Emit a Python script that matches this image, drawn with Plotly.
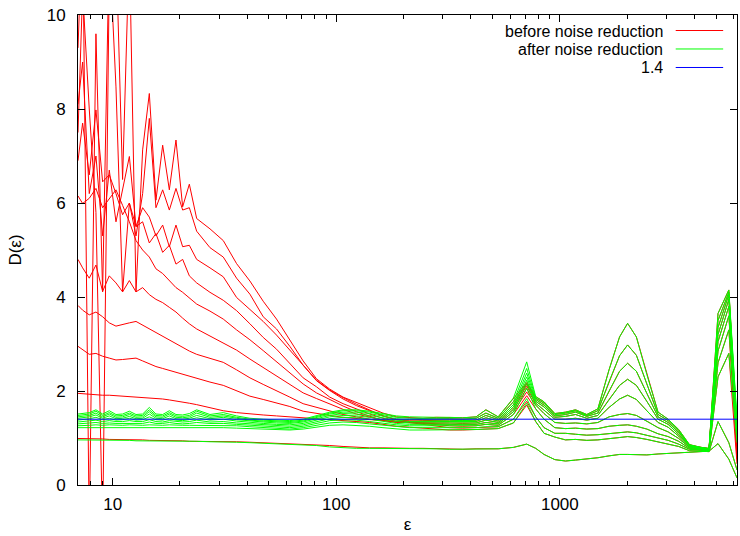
import math
import plotly.graph_objects as go

# ---------------- data ----------------
X_MIN = 7.0
X_MAX = 6200.0
THRESH = 1.4

eps_head = [7.0, 7.34, 7.86, 8.42, 9.02, 9.66, 10.35, 11.08, 11.88, 12.72, 13.62, 14.59, 15.62, 16.74,
            17.93, 19.2, 20.57, 22.03, 23.76, 27.25, 31.25, 35.84, 41.11, 47.14, 54.07, 62.01, 71.12,
            81.56, 93.52, 107.3, 123.0, 141.1, 161.8, 185.6, 212.8, 244.1, 279.9]
eps_tail = [321, 368, 422, 467, 530, 620, 711, 780, 850, 950, 1060, 1175, 1320, 1480, 1660, 1850,
            2010, 2200, 2450, 2750, 3050, 3400, 3800, 4250, 4650, 5100, 5700, 6200]

# before noise reduction, small-epsilon part, embedding dimensions 1..10
red_head_m1 = [0.99, 0.99, 0.98, 0.98, 0.98, 0.97, 0.97, 0.97, 0.96, 0.96, 0.96, 0.95, 0.95, 0.95, 0.94, 0.94, 0.94, 0.93, 0.93,
               0.93, 0.92, 0.92, 0.91, 0.90, 0.89, 0.88, 0.87, 0.86, 0.84, 0.82, 0.80, 0.79, 0.79, 0.78, 0.78, 0.78, 0.77]
red_head_m2 = [1.95, 1.94, 1.93, 1.92, 1.91, 1.91, 1.90, 1.89, 1.88, 1.88, 1.87, 1.86, 1.84, 1.83, 1.81, 1.79, 1.77, 1.74, 1.71,
               1.65, 1.58, 1.54, 1.51, 1.49, 1.47, 1.45, 1.43, 1.42, 1.40, 1.38, 1.36, 1.33, 1.29, 1.25, 1.23, 1.21, 1.19]
red_head_m3 = [2.95, 2.88, 2.78, 2.80, 2.74, 2.70, 2.66, 2.67, 2.68, 2.70, 2.64, 2.58, 2.52, 2.48, 2.44, 2.40, 2.36, 2.31, 2.26,
               2.19, 2.12, 2.00, 1.89, 1.82, 1.74, 1.67, 1.57, 1.52, 1.48, 1.44, 1.41, 1.39, 1.38, 1.36, 1.33, 1.29, 1.25]
red_head_m4 = [3.82, 3.72, 3.62, 3.68, 3.58, 3.45, 3.38, 3.42, 3.45, 3.48, 3.40, 3.32, 3.24, 3.16, 3.08, 3.01, 2.93, 2.85, 2.78,
               2.70, 2.61, 2.45, 2.28, 2.14, 2.01, 1.87, 1.73, 1.65, 1.58, 1.50, 1.45, 1.40, 1.37, 1.36, 1.34, 1.31, 1.28]
red_head_m5 = [4.80, 4.62, 4.40, 4.68, 4.12, 4.45, 4.30, 4.11, 4.35, 4.11, 4.20, 4.05, 3.95, 3.88, 3.78, 3.68, 3.55, 3.43, 3.32,
               3.17, 3.03, 2.87, 2.68, 2.50, 2.32, 2.15, 1.96, 1.84, 1.72, 1.61, 1.51, 1.44, 1.38, 1.34, 1.33, 1.32, 1.30]
red_head_m6 = [6.15, 5.99, 6.10, 6.31, 5.90, 6.10, 6.28, 5.95, 5.60, 5.20, 5.00, 4.85, 4.60, 4.50, 4.35, 4.20, 4.10, 3.98, 3.85,
               3.70, 3.53, 3.30, 3.09, 2.86, 2.62, 2.40, 2.15, 1.96, 1.82, 1.68, 1.56, 1.47, 1.37, 1.33, 1.33, 1.33, 1.32]
red_head_m7 = [6.90, 7.70, 6.60, 7.98, 6.45, 6.60, 6.20, 5.75, 6.00, 5.50, 5.60, 5.15, 5.35, 4.95, 5.10, 4.70, 4.80, 4.45, 4.30,
               4.10, 3.93, 3.71, 3.43, 3.14, 2.89, 2.59, 2.28, 2.09, 1.87, 1.73, 1.62, 1.51, 1.42, 1.35, 1.34, 1.35, 1.35]
red_head_m8 = [8.10, 9.00, 6.20, 7.00, 5.30, 6.70, 5.60, 6.30, 6.99, 5.50, 5.90, 5.70, 5.30, 5.53, 5.07, 5.53, 5.07, 5.10, 4.80,
               4.62, 4.43, 3.99, 3.74, 3.48, 3.19, 2.87, 2.54, 2.23, 2.02, 1.86, 1.72, 1.59, 1.47, 1.39, 1.36, 1.37, 1.38]
red_head_m9 = [9.30, 12.0, -1.0, 9.60, 4.11, 11.5, 8.47, 4.11, 6.00, 5.30, 6.20, 7.80, 5.90, 6.28, 5.85, 6.31, 5.85, 5.90, 5.40,
               5.05, 4.85, 4.40, 4.06, 3.58, 3.32, 2.95, 2.55, 2.22, 2.01, 1.83, 1.69, 1.58, 1.47, 1.39, 1.38, 1.40, 1.41]
red_head_m10 = [7.50, 10.5, 8.00, 5.80, -1.0, 10.8, 11.5, 6.50, 11.5, 4.11, 7.13, 8.33, 6.06, 7.23, 6.28, 7.34, 5.92, 6.40, 5.67,
                5.45, 5.20, 4.71, 4.34, 3.91, 3.53, 3.08, 2.64, 2.26, 2.04, 1.87, 1.76, 1.64, 1.53, 1.45, 1.43, 1.42, 1.44]

# after noise reduction, small-epsilon part
green_head_m1 = [0.96, 0.96, 0.96, 0.96, 0.95, 0.95, 0.95, 0.95, 0.95, 0.94, 0.94, 0.94, 0.94, 0.94, 0.93, 0.93, 0.93, 0.93, 0.93,
                 0.92, 0.92, 0.91, 0.90, 0.89, 0.88, 0.87, 0.86, 0.84, 0.81, 0.79, 0.78, 0.78, 0.78, 0.78, 0.78, 0.78, 0.77]
green_head_m2 = [1.22, 1.22, 1.23, 1.23, 1.23, 1.23, 1.23, 1.23, 1.23, 1.23, 1.23, 1.23, 1.23, 1.23, 1.23, 1.22, 1.22, 1.22, 1.22,
                 1.22, 1.22, 1.21, 1.20, 1.19, 1.18, 1.17, 1.19, 1.23, 1.27, 1.28, 1.27, 1.25, 1.22, 1.19, 1.17, 1.17, 1.17]
green_head_m3 = [1.26, 1.27, 1.27, 1.28, 1.27, 1.28, 1.27, 1.27, 1.28, 1.27, 1.27, 1.28, 1.27, 1.27, 1.28, 1.27, 1.27, 1.27, 1.27,
                 1.27, 1.27, 1.26, 1.24, 1.22, 1.20, 1.19, 1.22, 1.27, 1.32, 1.34, 1.33, 1.30, 1.27, 1.24, 1.22, 1.22, 1.22]
green_head_m4 = [1.30, 1.31, 1.32, 1.33, 1.31, 1.32, 1.31, 1.31, 1.32, 1.31, 1.31, 1.34, 1.31, 1.31, 1.33, 1.31, 1.30, 1.31, 1.33,
                 1.31, 1.31, 1.29, 1.27, 1.25, 1.23, 1.22, 1.25, 1.31, 1.37, 1.39, 1.38, 1.35, 1.31, 1.28, 1.26, 1.26, 1.26]
green_head_m5 = [1.34, 1.35, 1.36, 1.38, 1.35, 1.37, 1.35, 1.35, 1.37, 1.35, 1.35, 1.39, 1.35, 1.34, 1.37, 1.35, 1.34, 1.35, 1.38,
                 1.34, 1.35, 1.32, 1.30, 1.28, 1.26, 1.25, 1.28, 1.35, 1.41, 1.44, 1.43, 1.40, 1.35, 1.31, 1.29, 1.29, 1.29]
green_head_m6 = [1.38, 1.39, 1.41, 1.44, 1.39, 1.42, 1.38, 1.39, 1.42, 1.38, 1.39, 1.45, 1.39, 1.38, 1.42, 1.38, 1.37, 1.39, 1.43,
                 1.38, 1.40, 1.36, 1.33, 1.31, 1.29, 1.28, 1.31, 1.38, 1.45, 1.48, 1.47, 1.44, 1.39, 1.35, 1.32, 1.32, 1.32]
green_head_m7 = [1.42, 1.43, 1.45, 1.49, 1.42, 1.47, 1.41, 1.42, 1.46, 1.41, 1.42, 1.51, 1.42, 1.41, 1.47, 1.41, 1.40, 1.42, 1.48,
                 1.41, 1.44, 1.39, 1.36, 1.34, 1.32, 1.31, 1.34, 1.41, 1.48, 1.52, 1.51, 1.48, 1.43, 1.38, 1.35, 1.35, 1.35]
green_head_m8 = [1.45, 1.46, 1.48, 1.53, 1.45, 1.51, 1.44, 1.45, 1.50, 1.44, 1.45, 1.56, 1.45, 1.44, 1.51, 1.44, 1.43, 1.45, 1.53,
                 1.44, 1.47, 1.42, 1.38, 1.36, 1.34, 1.33, 1.36, 1.44, 1.51, 1.55, 1.55, 1.52, 1.46, 1.41, 1.39, 1.38, 1.38]
green_head_m9 = [1.48, 1.49, 1.51, 1.57, 1.48, 1.54, 1.47, 1.48, 1.53, 1.47, 1.48, 1.60, 1.48, 1.47, 1.54, 1.47, 1.46, 1.48, 1.57,
                 1.47, 1.50, 1.44, 1.40, 1.38, 1.36, 1.35, 1.38, 1.46, 1.53, 1.58, 1.58, 1.55, 1.49, 1.44, 1.42, 1.41, 1.41]
green_head_m10 = [1.51, 1.52, 1.54, 1.60, 1.51, 1.58, 1.50, 1.51, 1.57, 1.50, 1.51, 1.65, 1.51, 1.50, 1.58, 1.50, 1.49, 1.52, 1.60,
                  1.50, 1.54, 1.47, 1.42, 1.40, 1.38, 1.37, 1.40, 1.48, 1.55, 1.60, 1.60, 1.57, 1.52, 1.47, 1.45, 1.44, 1.44]

# large-epsilon part (both curves coincide there)
tail_m1 = [0.76, 0.76, 0.77, 0.77, 0.77, 0.80, 0.87, 0.78, 0.65, 0.54, 0.51, 0.53, 0.55, 0.58, 0.62, 0.65, 0.65, 0.64,
           0.64, 0.66, 0.67, 0.68, 0.70, 0.71, 0.72, 0.88, 0.55, 0.15]
tail_m2 = [1.17, 1.17, 1.18, 1.19, 1.20, 1.32, 1.74, 1.35, 1.10, 1.02, 0.96, 0.97, 0.95, 0.96, 0.98, 1.01, 1.03, 1.01,
           0.97, 0.92, 0.88, 0.82, 0.73, 0.72, 0.71, 1.35, 0.90, 0.32]
tail_m3 = [1.22, 1.21, 1.22, 1.24, 1.24, 1.40, 1.84, 1.45, 1.22, 1.10, 1.10, 1.08, 1.06, 1.07, 1.09, 1.12, 1.13, 1.11,
           1.06, 0.99, 0.95, 0.87, 0.76, 0.74, 0.72, 2.30, 2.80, 0.90]
tail_m4 = [1.26, 1.25, 1.26, 1.29, 1.27, 1.50, 2.06, 1.62, 1.40, 1.22, 1.20, 1.21, 1.19, 1.20, 1.25, 1.27, 1.28, 1.25,
           1.19, 1.09, 1.03, 0.93, 0.78, 0.75, 0.73, 2.60, 3.30, 1.00]
tail_m5 = [1.29, 1.28, 1.29, 1.33, 1.30, 1.56, 2.16, 1.70, 1.52, 1.33, 1.31, 1.32, 1.30, 1.33, 1.45, 1.50, 1.52, 1.48,
           1.36, 1.22, 1.13, 0.99, 0.80, 0.76, 0.74, 2.85, 3.60, 1.10]
tail_m6 = [1.32, 1.31, 1.32, 1.38, 1.33, 1.61, 2.23, 1.74, 1.60, 1.40, 1.40, 1.42, 1.38, 1.42, 1.65, 1.83, 1.91, 1.82,
           1.58, 1.33, 1.23, 1.04, 0.81, 0.77, 0.75, 3.05, 3.80, 1.20]
tail_m7 = [1.35, 1.34, 1.35, 1.43, 1.36, 1.66, 2.30, 1.78, 1.66, 1.44, 1.46, 1.50, 1.42, 1.48, 1.82, 2.12, 2.25, 2.12,
           1.78, 1.40, 1.29, 1.08, 0.83, 0.78, 0.76, 3.20, 3.95, 1.25]
tail_m8 = [1.38, 1.37, 1.38, 1.48, 1.39, 1.71, 2.38, 1.82, 1.70, 1.47, 1.50, 1.55, 1.46, 1.53, 2.00, 2.42, 2.59, 2.42,
           1.95, 1.45, 1.33, 1.12, 0.84, 0.79, 0.77, 3.35, 4.05, 1.30]
tail_m9 = [1.41, 1.40, 1.42, 1.53, 1.42, 1.77, 2.48, 1.85, 1.74, 1.50, 1.53, 1.58, 1.48, 1.58, 2.20, 2.75, 2.98, 2.76,
           2.15, 1.50, 1.37, 1.15, 0.85, 0.80, 0.77, 3.50, 4.10, 1.35]
tail_m10 = [1.44, 1.43, 1.45, 1.60, 1.45, 1.85, 2.62, 1.88, 1.77, 1.52, 1.55, 1.60, 1.50, 1.62, 2.45, 3.15, 3.44, 3.15,
            2.35, 1.55, 1.40, 1.18, 0.86, 0.80, 0.78, 3.65, 4.15, 1.40]

# points where the "before" curves differ from the "after" curves at large epsilon
red_peak_711 = [0.87, 1.70, 1.78, 1.90, 1.98, 2.05, 2.10, 2.14, 2.16, 2.18]
red_end_6200 = [0.15, 0.32, 0.45, 0.55, 0.65, 0.75, 0.85, 0.95, 1.05, 1.15]

x_tick_values = [10, 100, 1000]
x_tick_labels = ["10", "100", "1000"]
y_tick_values = [0, 2, 4, 6, 8, 10]
legend_labels = ["before noise reduction", "after noise reduction", "1.4"]

# ---------------- figure ----------------
RED, GREEN, BLUE = "#ff0000", "#00ff00", "#0000ff"
FONT = "Liberation Sans, Arial, Helvetica, sans-serif"

red_heads = [red_head_m1, red_head_m2, red_head_m3, red_head_m4, red_head_m5,
             red_head_m6, red_head_m7, red_head_m8, red_head_m9, red_head_m10]
green_heads = [green_head_m1, green_head_m2, green_head_m3, green_head_m4, green_head_m5,
               green_head_m6, green_head_m7, green_head_m8, green_head_m9, green_head_m10]
tails = [tail_m1, tail_m2, tail_m3, tail_m4, tail_m5, tail_m6, tail_m7, tail_m8, tail_m9, tail_m10]

for h in red_heads + green_heads:
    assert len(h) == len(eps_head), len(h)
for t in tails:
    assert len(t) == len(eps_tail), len(t)

eps_all = eps_head + eps_tail
i711 = eps_tail.index(711)

fig = go.Figure()
for k in range(10):
    red_tail = list(tails[k])
    red_tail[i711] = red_peak_711[k]
    red_tail[-1] = red_end_6200[k]
    fig.add_trace(go.Scatter(x=eps_all, y=red_heads[k] + red_tail, mode="lines",
                             line=dict(color=RED, width=1), showlegend=False, hoverinfo="skip"))
for k in range(10):
    fig.add_trace(go.Scatter(x=eps_all, y=green_heads[k] + tails[k], mode="lines",
                             line=dict(color=GREEN, width=1), showlegend=False, hoverinfo="skip"))
fig.add_trace(go.Scatter(x=[X_MIN, X_MAX], y=[THRESH, THRESH], mode="lines",
                         line=dict(color=BLUE, width=1), showlegend=False, hoverinfo="skip"))

minor_vals = [m * 10 ** d for d in range(0, 4) for m in range(2, 10) if X_MIN <= m * 10 ** d <= X_MAX]

fig.update_layout(
    width=740, height=536,
    margin=dict(l=78, r=3, t=15, b=51),
    paper_bgcolor="white", plot_bgcolor="white",
    font=dict(family=FONT, size=17, color="black"),
    showlegend=False,
    xaxis=dict(type="log", range=[math.log10(X_MIN), math.log10(X_MAX)],
               tickvals=x_tick_values, ticktext=x_tick_labels,
               ticks="inside", ticklen=7, tickwidth=1, tickcolor="black",
               minor=dict(tickvals=minor_vals, ticks="inside", ticklen=4, tickwidth=1, tickcolor="black", showgrid=False),
               showline=True, linecolor="black", linewidth=1, mirror="allticks",
               showgrid=False, zeroline=False, ticklabelstandoff=4, automargin=False,
               title=dict(text="ε", standoff=4, font=dict(size=17))),
    yaxis=dict(range=[0, 10], tickvals=y_tick_values,
               ticks="inside", ticklen=7, tickwidth=1, tickcolor="black",
               showline=True, linecolor="black", linewidth=1, mirror="allticks",
               showgrid=False, zeroline=False, ticklabelstandoff=8, automargin=False,
               title=dict(text="D(ε)", standoff=20, font=dict(size=17))),
)

# key in the upper right corner (text right-aligned, sample line to its right)
key_rows = [0.967, 0.9277, 0.8883]
key_colors = [RED, GREEN, BLUE]
for label, yy, col in zip(legend_labels, key_rows, key_colors):
    fig.add_annotation(x=0.889, y=yy, xref="paper", yref="paper", text=label, showarrow=False,
                       xanchor="right", yanchor="middle", height=16, borderpad=0,
                       font=dict(size=16, color="black"))
    fig.add_shape(type="line", xref="paper", yref="paper", x0=0.907, x1=0.979, y0=yy, y1=yy,
                  line=dict(color=col, width=1))

fig.write_html("out.html", config={"displayModeBar": False},
               post_script="document.body.style.margin='0';document.body.style.overflow='hidden';")
